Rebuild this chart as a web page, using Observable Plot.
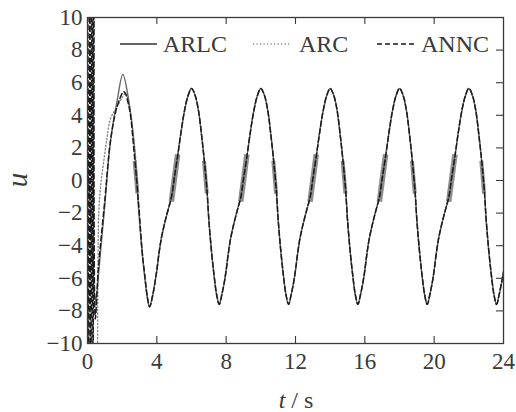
<!DOCTYPE html>
<html>
<head>
<meta charset="utf-8">
<script src="https://cdn.jsdelivr.net/npm/d3@7"></script>
<script src="https://cdn.jsdelivr.net/npm/@observablehq/plot@0.6"></script>
<style>
  html, body { margin: 0; padding: 0; background: #fff; }
  #chart { width: 516px; height: 412px; }
</style>
</head>
<body>
<div id="chart"></div>
<script>
// ---- axis ticks ----
const xTicks = [0, 4, 8, 12, 16, 20, 24];
const xTickLabels = ["0", "4", "8", "12", "16", "20", "24"];
const yTicks = [-10, -8, -6, -4, -2, 0, 2, 4, 6, 8, 10];
const yTickLabels = ["\u221210", "\u22128", "\u22126", "\u22124", "\u22122", "0", "2", "4", "6", "8", "10"];

// ---- series names ----
const seriesNames = ["ARLC", "ARC", "ANNC"];

// ---- steady-state part (t = 4 .. 24), shared by the three controllers ----
const tSteady = [
  4, 4.12, 4.25, 4.4, 4.55, 4.7, 4.85, 5, 5.2, 5.4, 5.6, 5.8, 6, 6.2, 6.4, 6.6, 6.75, 6.9, 7, 7.15, 7.3, 7.45, 7.6, 7.75, 7.9,
  8, 8.12, 8.25, 8.4, 8.55, 8.7, 8.85, 9, 9.2, 9.4, 9.6, 9.8, 10, 10.2, 10.4, 10.6, 10.75, 10.9, 11, 11.15, 11.3, 11.45, 11.6, 11.75, 11.9,
  12, 12.12, 12.25, 12.4, 12.55, 12.7, 12.85, 13, 13.2, 13.4, 13.6, 13.8, 14, 14.2, 14.4, 14.6, 14.75, 14.9, 15, 15.15, 15.3, 15.45, 15.6, 15.75, 15.9,
  16, 16.12, 16.25, 16.4, 16.55, 16.7, 16.85, 17, 17.2, 17.4, 17.6, 17.8, 18, 18.2, 18.4, 18.6, 18.75, 18.9, 19, 19.15, 19.3, 19.45, 19.6, 19.75, 19.9,
  20, 20.12, 20.25, 20.4, 20.55, 20.7, 20.85, 21, 21.2, 21.4, 21.6, 21.8, 22, 22.2, 22.4, 22.6, 22.75, 22.9, 23, 23.15, 23.3, 23.45, 23.6, 23.75, 23.9,
  24
];
const uSteady = [
  -5.5, -4.5, -3.6, -2.85, -2.2, -1.6, -1.0, 0.1, 1.5, 3.0, 4.3, 5.2, 5.65, 5.25, 4.3, 2.6, 1.1, -0.7, -2.4, -4.3, -5.8, -7.0, -7.6, -7.0, -6.2,
  -5.5, -4.5, -3.6, -2.85, -2.2, -1.6, -1.0, 0.1, 1.5, 3.0, 4.3, 5.2, 5.65, 5.25, 4.3, 2.6, 1.1, -0.7, -2.4, -4.3, -5.8, -7.0, -7.6, -7.0, -6.2,
  -5.5, -4.5, -3.6, -2.85, -2.2, -1.6, -1.0, 0.1, 1.5, 3.0, 4.3, 5.2, 5.65, 5.25, 4.3, 2.6, 1.1, -0.7, -2.4, -4.3, -5.8, -7.0, -7.6, -7.0, -6.2,
  -5.5, -4.5, -3.6, -2.85, -2.2, -1.6, -1.0, 0.1, 1.5, 3.0, 4.3, 5.2, 5.65, 5.25, 4.3, 2.6, 1.1, -0.7, -2.4, -4.3, -5.8, -7.0, -7.6, -7.0, -6.2,
  -5.5, -4.5, -3.6, -2.85, -2.2, -1.6, -1.0, 0.1, 1.5, 3.0, 4.3, 5.2, 5.65, 5.25, 4.3, 2.6, 1.1, -0.7, -2.4, -4.3, -5.8, -7.0, -7.6, -7.0, -6.2,
  -5.6
];

// ---- transient part (t = 0 .. 4) of each controller ----
const tArlc = [0, 0.15, 0.27, 0.38, 0.46, 0.55, 0.65, 0.75, 1.0, 1.33, 1.71, 2.04, 2.38, 2.67, 2.95, 3.15, 3.3, 3.45, 3.58, 3.75, 3.9];
const uArlc = [1.0, -1.5, -4.3, -6.6, -7.4, -6.8, -5.6, -4.4, -1.5, 2.45, 4.9, 6.5, 4.9, 2.45, -1.8, -4.4, -5.9, -7.2, -7.75, -7.1, -6.2];

const tArc = [0.57, 0.6, 0.65, 0.75, 0.94, 1.13, 1.33, 1.7, 2.0, 2.2, 2.45, 2.77, 2.9, 3.15, 3.3, 3.45, 3.58, 3.75, 3.9];
const uArc = [-14, -6, -2, -0.4, 1.2, 2.65, 3.8, 4.5, 5.1, 5.35, 4.3, 1.5, -0.7, -4.3, -5.8, -7.1, -7.75, -7.1, -6.2];

const tAnnc = [0.02, 0.08, 0.14, 0.2, 0.26, 0.32, 0.37, 0.45, 0.62, 1.0, 1.33, 1.7, 2.1, 2.4, 2.7, 2.96, 3.15, 3.3, 3.45, 3.58, 3.75, 3.9];
const uAnnc = [12, -12, 12, -12, 12, -12, 12, -8.5, -5.5, -1.2, 2.45, 4.5, 5.45, 4.5, 1.6, -1.6, -4.3, -5.8, -7.1, -7.75, -7.1, -6.2];

// ---- ARC chattering bands near zero crossings ----
const fallT1 = [2.72, 6.72, 10.72, 14.72, 18.72, 22.72];
const fallT2 = [2.88, 6.88, 10.88, 14.88, 18.88, 22.88];
const fallU1 = [1.2, 1.2, 1.2, 1.2, 1.2, 1.2];
const fallU2 = [-0.8, -0.8, -0.8, -0.8, -0.8, -0.8];
const riseT1 = [4.84, 8.84, 12.84, 16.84, 20.84];
const riseT2 = [5.2, 9.2, 13.2, 17.2, 21.2];
const riseU1 = [-1.3, -1.3, -1.3, -1.3, -1.3];
const riseU2 = [1.6, 1.6, 1.6, 1.6, 1.6];

// ---- build tables ----
const rows = (ts, us) => ts.map((t, i) => ({t, u: us[i]}));
const steadyRows = rows(tSteady, uSteady);
const arlcRows = rows(tArlc, uArlc).concat(steadyRows);
const arcRows = rows(tArc, uArc).concat(steadyRows);
const anncRows = rows(tAnnc, uAnnc).concat(steadyRows);
const fallBands = fallT1.map((t, i) => ({t1: t, t2: fallT2[i], u1: fallU1[i], u2: fallU2[i]}));
const riseBands = riseT1.map((t, i) => ({t1: t, t2: riseT2[i], u1: riseU1[i], u2: riseU2[i]}));

const W = 516, H = 412, mL = 87, mR = 13, mT = 17, mB = 69;
const pw = W - mL - mR, ph = H - mT - mB;
const ink = "#3a3a3a";
const serif = "'Times New Roman','Liberation Serif',Tinos,serif";

const innerX = xTicks.filter(d => d > 0 && d < 24);
const innerY = yTicks.filter(d => d > -10 && d < 10);

const chart = Plot.plot({
  width: W, height: H,
  marginLeft: mL, marginRight: mR, marginTop: mT, marginBottom: mB,
  x: {domain: [0, 24]},
  y: {domain: [-10, 10]},
  style: {fontFamily: serif, fontSize: "23px", color: ink, background: "#fff"},
  marks: [
    Plot.line(arcRows, {x: "t", y: "u", stroke: "#8a8a8a", strokeWidth: 1.4, strokeDasharray: "1.2,2.3", curve: "catmull-rom", clip: true}),
    Plot.link(fallBands, {x1: "t1", x2: "t2", y1: "u1", y2: "u2", stroke: "#8e8e8e", strokeWidth: 4, clip: true}),
    Plot.link(riseBands, {x1: "t1", x2: "t2", y1: "u1", y2: "u2", stroke: "#8e8e8e", strokeWidth: 5.5, clip: true}),
    Plot.line(arlcRows, {x: "t", y: "u", stroke: "#6a6a6a", strokeWidth: 1.4, curve: "catmull-rom", clip: true}),
    Plot.line(anncRows, {x: "t", y: "u", stroke: "#1a1a1a", strokeWidth: 1.5, strokeDasharray: "5,3", curve: "catmull-rom", clip: true}),
    Plot.tickX(innerX, {x: d => d, insetTop: ph - 7, stroke: ink, strokeWidth: 1.1}),
    Plot.tickX(innerX, {x: d => d, insetBottom: ph - 7, stroke: ink, strokeWidth: 1.1}),
    Plot.tickY(innerY, {y: d => d, insetRight: pw - 7, stroke: ink, strokeWidth: 1.1}),
    Plot.tickY(innerY, {y: d => d, insetLeft: pw - 7, stroke: ink, strokeWidth: 1.1}),
    Plot.frame({stroke: ink, strokeWidth: 1.3}),
    Plot.axisX({ticks: xTicks, tickSize: 0, tickPadding: 9, tickFormat: d => xTickLabels[xTicks.indexOf(d)], label: null, fontSize: 23}),
    Plot.axisY({ticks: yTicks, tickSize: 0, tickPadding: 5, tickFormat: d => yTickLabels[yTicks.indexOf(d)], label: null, fontSize: 23})
  ]
});

document.getElementById("chart").appendChild(chart);

// ---- axis titles and legend (layout) ----
const svg = d3.select(chart);
svg.append("text")
  .attr("transform", "translate(27,180) rotate(-90)")
  .attr("text-anchor", "middle")
  .attr("font-family", serif).attr("font-style", "italic").attr("font-size", 29)
  .attr("fill", ink).text("u");

const xl = svg.append("text")
  .attr("x", 296).attr("y", 408).attr("text-anchor", "middle")
  .attr("font-family", serif).attr("font-size", 24).attr("fill", ink);
xl.append("tspan").attr("font-style", "italic").text("t");
xl.append("tspan").text(" / s");

const legendItems = [
  {name: seriesNames[0], x1: 120, x2: 157, tx: 163, stroke: "#333", dash: null, w: 1.5},
  {name: seriesNames[1], x1: 253, x2: 289, tx: 299, stroke: "#8a8a8a", dash: "1.2,2.3", w: 1.4},
  {name: seriesNames[2], x1: 377, x2: 414, tx: 421, stroke: "#1a1a1a", dash: "5,3", w: 1.5}
];
const lg = svg.append("g").attr("text-anchor", "start");
for (const it of legendItems) {
  const ln = lg.append("line").attr("x1", it.x1).attr("x2", it.x2).attr("y1", 44).attr("y2", 44)
    .attr("stroke", it.stroke).attr("stroke-width", it.w);
  if (it.dash) ln.attr("stroke-dasharray", it.dash);
  lg.append("text").attr("x", it.tx).attr("y", 52).attr("text-anchor", "start")
    .attr("font-family", serif).attr("font-size", 24)
    .attr("fill", ink).text(it.name);
}
</script>
</body>
</html>
